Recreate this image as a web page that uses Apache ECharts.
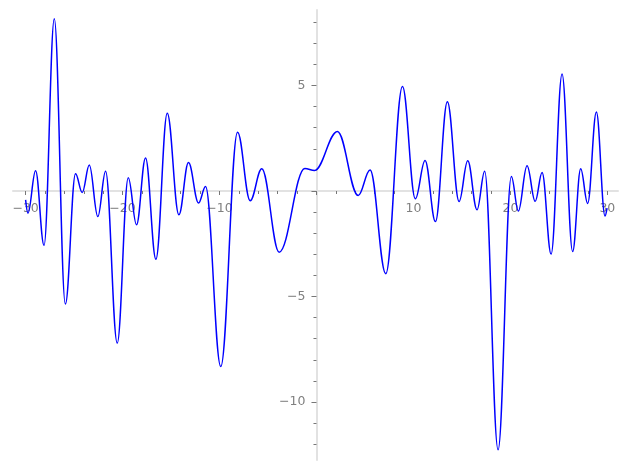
<!DOCTYPE html>
<html>
<head>
<meta charset="utf-8">
<script src="https://cdn.jsdelivr.net/npm/echarts@6/dist/echarts.min.js"></script>
<style>
html,body{margin:0;padding:0;background:#fff;}
#chart{width:627px;height:470px;}
</style>
</head>
<body>
<div id="chart"></div>
<script>
// Curve samples (turning points)
const xValues = [-30.0, -29.76, -28.97, -28.1, -27.04, -25.9, -24.85, -24.16, -23.43, -22.55,
  -21.75, -20.55, -19.41, -18.56, -17.63, -16.56, -15.39, -14.19, -13.2, -12.16,
  -11.44, -9.87, -8.14, -6.84, -5.64, -3.85, -1.2, -0.2, 2.16, 4.3,
  5.53, 7.15, 8.87, 10.2, 11.2, 12.27, 13.5, 14.71, 15.6, 16.56,
  17.35, 18.73, 20.1, 20.82, 21.72, 22.56, 23.27, 24.2, 25.33, 26.42,
  27.25, 27.97, 28.87, 29.76, 29.97];
const yValues = [-0.42, -1.05, 0.96, -2.58, 8.16, -5.36, 0.82, -0.07, 1.23, -1.21,
  0.94, -7.21, 0.63, -1.60, 1.57, -3.23, 3.69, -1.13, 1.35, -0.57,
  0.21, -8.32, 2.79, -0.46, 1.05, -2.90, 1.07, 0.97, 2.82, -0.21,
  1.00, -3.92, 4.95, -0.37, 1.45, -1.45, 4.23, -0.50, 1.43, -0.89,
  0.94, -12.27, 0.69, -0.95, 1.20, -0.49, 0.88, -2.99, 5.55, -2.87,
  1.05, -0.59, 3.74, -1.18, -0.81];
const xTickLabels = [-30, -20, -10, 10, 20, 30];
const xMinorTicks = [-28,-26,-24,-22,-18,-16,-14,-12,-8,-6,-4,-2,2,4,6,8,12,14,16,18,22,24,26,28];
const xMajorTicks = [-30, -20, -10, 0, 10, 20, 30];
const yTickLabels = [-10, -5, 5];
const yMinorTicks = [-12,-11,-9,-8,-7,-6,-4,-3,-2,-1,1,2,3,4,6,7,8];
const yMajorTicks = [-10, -5, 0, 5];

const data = xValues.map((x, i) => [x, yValues[i]]);
const fmt = v => (v < 0 ? '\u2212' + Math.abs(v) : String(v));

const W = 627, H = 470;
const grid = {left: 13, right: 9, top: 10, bottom: 10};
const xMin = -31.3, xMax = 31.1, yMin = -12.75, yMax = 8.58;
const plotW = W - grid.left - grid.right, plotH = H - grid.top - grid.bottom;
// place axes through the origin
const xAxisOffset = -plotH * (0 - yMin) / (yMax - yMin);
const yAxisOffset = -plotW * (0 - xMin) / (xMax - xMin);

const labelStyle = {color: '#808080', fontFamily: 'DejaVu Sans', fontSize: 12.5, margin: 11};
const tickColor = '#777';

const chart = echarts.init(document.getElementById('chart'), null, {renderer: 'canvas'});
chart.setOption({
  animation: false,
  backgroundColor: '#ffffff',
  grid: Object.assign({containLabel: false, outerBoundsMode: 'none'}, grid),
  xAxis: [{
    type: 'value', min: xMin, max: xMax, position: 'bottom', offset: xAxisOffset,
    axisLine: {show: true, onZero: false, lineStyle: {color: '#e2e2e2', width: 2}},
    axisTick: {show: true, customValues: xMinorTicks, length: 3, lineStyle: {color: tickColor, width: 1}},
    axisLabel: Object.assign({show: true, customValues: xTickLabels, formatter: fmt}, labelStyle),
    splitLine: {show: false}
  }, {
    type: 'value', min: xMin, max: xMax, position: 'bottom', offset: xAxisOffset,
    axisLine: {show: false, onZero: false},
    axisTick: {show: true, customValues: xMajorTicks, length: 4, lineStyle: {color: tickColor, width: 1}},
    axisLabel: {show: false},
    splitLine: {show: false}
  }],
  yAxis: [{
    type: 'value', min: yMin, max: yMax, position: 'left', offset: yAxisOffset,
    axisLine: {show: true, onZero: false, lineStyle: {color: '#e2e2e2', width: 2}},
    axisTick: {show: true, customValues: yMinorTicks, length: 3, lineStyle: {color: tickColor, width: 1}},
    axisLabel: Object.assign({show: true, customValues: yTickLabels, formatter: fmt}, labelStyle),
    splitLine: {show: false}
  }, {
    type: 'value', min: yMin, max: yMax, position: 'left', offset: yAxisOffset,
    axisLine: {show: false, onZero: false},
    axisTick: {show: true, customValues: yMajorTicks, length: 5, lineStyle: {color: tickColor, width: 1}},
    axisLabel: {show: false},
    splitLine: {show: false}
  }],
  series: [{
    type: 'line',
    xAxisIndex: 0,
    yAxisIndex: 0,
    data: data,
    showSymbol: false,
    smooth: 0.38,
    smoothMonotone: 'x',
    lineStyle: {color: '#0000ff', width: 1.5},
    z: 3
  }]
});
</script>
</body>
</html>
